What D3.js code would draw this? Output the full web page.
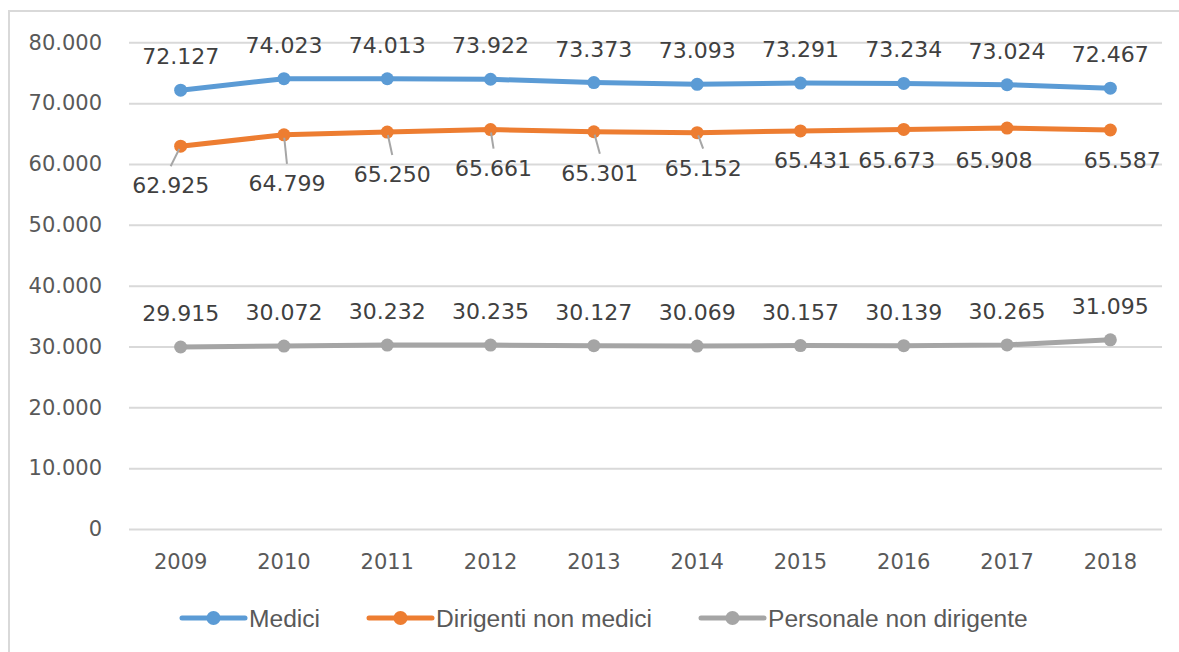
<!DOCTYPE html>
<html>
<head>
<meta charset="utf-8">
<script src="https://cdn.jsdelivr.net/npm/d3@7"></script>
<style>
  html, body { margin: 0; padding: 0; background: #fff; }
  svg { display: block; }
</style>
</head>
<body>
<div id="chart"></div>
<script>
// ---- data ----
const years = ['2009', '2010', '2011', '2012', '2013', '2014', '2015', '2016', '2017', '2018'];
const medici = [72127, 74023, 74013, 73922, 73373, 73093, 73291, 73234, 73024, 72467];
const dirigentiNonMedici = [62925, 64799, 65250, 65661, 65301, 65152, 65431, 65673, 65908, 65587];
const personaleNonDirigente = [29915, 30072, 30232, 30235, 30127, 30069, 30157, 30139, 30265, 31095];
const yTicks = [0, 10000, 20000, 30000, 40000, 50000, 60000, 70000, 80000];

// manually moved labels of the orange series (layout, px from the point)
const orangeNudge = [[-10, 39], [3, 48], [5, 42], [3, 38], [6, 41], [6, 35], [12, 29], [-7, 31], [-13, 32], [12, 30]];
const orangeLeader = [true, true, true, true, true, true, false, false, false, false];

const W = 1179, H = 652;
const plot = { left: 129, right: 1162, top: 42.3, bottom: 529 };

const it = d3.formatLocale({ decimal: ',', thousands: '.', grouping: [3], currency: ['€', ''] });
const fmt = it.format(',d');

const svg = d3.select('#chart').append('svg')
  .attr('width', W).attr('height', H);

// outer chart frame (extends beyond the picture on the right/bottom)
svg.append('rect')
  .attr('x', 9).attr('y', 11)
  .attr('width', 1300).attr('height', 800)
  .attr('fill', '#fff')
  .attr('stroke', '#d9d9d9').attr('stroke-width', 2);

const x = d3.scaleBand().domain(years).range([plot.left, plot.right]);
const cx = d => x(d) + x.bandwidth() / 2;
const y = d3.scaleLinear().domain([0, 80000]).range([plot.bottom, plot.top]);

// grid
svg.append('g')
  .attr('transform', `translate(${plot.left},0)`)
  .call(d3.axisLeft(y).tickValues(yTicks).tickSize(-(plot.right - plot.left)).tickFormat(''))
  .call(g => g.select('.domain').remove())
  .selectAll('line')
  .attr('stroke', '#d9d9d9').attr('stroke-width', 2);

// y axis labels
svg.append('g')
  .attr('transform', `translate(${plot.left - 27},0)`)
  .call(d3.axisLeft(y).tickValues(yTicks).tickSize(0).tickPadding(0).tickFormat(fmt))
  .call(g => g.select('.domain').remove())
  .selectAll('text')
  .attr('fill', '#595959')
  .style('font-family', "'DejaVu Sans', sans-serif")
  .style('font-size', '21px');

// x axis labels
svg.append('g')
  .attr('transform', `translate(0,${plot.bottom})`)
  .call(d3.axisBottom(x).tickSize(0).tickPadding(25))
  .call(g => g.select('.domain').remove())
  .selectAll('text')
  .attr('fill', '#595959')
  .style('font-family', "'DejaVu Sans', sans-serif")
  .style('font-size', '21px');

const series = [
  { name: 'Medici', values: medici, color: '#5b9bd5' },
  { name: 'Dirigenti non medici', values: dirigentiNonMedici, color: '#ed7d31' },
  { name: 'Personale non dirigente', values: personaleNonDirigente, color: '#a5a5a5' }
];

const line = d3.line().x((d, i) => cx(years[i])).y(d => y(d));

series.forEach(s => {
  svg.append('path')
    .attr('d', line(s.values))
    .attr('fill', 'none')
    .attr('stroke', s.color)
    .attr('stroke-width', 5)
    .attr('stroke-linejoin', 'round')
    .attr('stroke-linecap', 'round');
  svg.append('g').selectAll('circle')
    .data(s.values)
    .join('circle')
    .attr('cx', (d, i) => cx(years[i]))
    .attr('cy', d => y(d))
    .attr('r', 6.5)
    .attr('fill', s.color);
});

// leader lines for moved labels
const leaders = svg.append('g');
dirigentiNonMedici.forEach((v, i) => {
  if (!orangeLeader[i]) return;
  const px = cx(years[i]), py = y(v);
  const ex = px + orangeNudge[i][0], ey = py + orangeNudge[i][1] - 19;
  const len = Math.hypot(ex - px, ey - py);
  leaders.append('line')
    .attr('x1', px + (ex - px) / len * 3).attr('y1', py + (ey - py) / len * 3)
    .attr('x2', ex).attr('y2', ey)
    .attr('stroke', '#a6a6a6').attr('stroke-width', 2);
});

// data labels
const labelStyle = sel => sel
  .attr('text-anchor', 'middle')
  .attr('fill', '#404040')
  .style('font-family', "'DejaVu Sans', sans-serif")
  .style('font-size', '22px');

const labels = svg.append('g');
[medici, personaleNonDirigente].forEach(vals => {
  labels.append('g').selectAll('text')
    .data(vals)
    .join('text')
    .attr('x', (d, i) => cx(years[i]))
    .attr('y', d => y(d) - 34 + 8)
    .text(d => fmt(d))
    .call(labelStyle);
});
labels.append('g').selectAll('text')
  .data(dirigentiNonMedici)
  .join('text')
  .attr('x', (d, i) => cx(years[i]) + orangeNudge[i][0])
  .attr('y', (d, i) => y(d) + orangeNudge[i][1] + 8)
  .text(d => fmt(d))
  .call(labelStyle);

// legend
const legendX = [182, 369, 701];
const legend = svg.append('g').attr('transform', 'translate(0,618)');
series.forEach((s, i) => {
  const g = legend.append('g').attr('transform', `translate(${legendX[i]},0)`);
  g.append('line')
    .attr('x1', 0).attr('x2', 63)
    .attr('stroke', s.color).attr('stroke-width', 5)
    .attr('stroke-linecap', 'round');
  g.append('circle').attr('cx', 31.5).attr('r', 7).attr('fill', s.color);
  g.append('text')
    .attr('x', 67).attr('y', 8.5)
    .attr('fill', '#595959')
    .style('font-family', "'Liberation Sans', Arial, sans-serif")
    .style('font-size', '24.6px')
    .text(s.name);
});
</script>
</body>
</html>
